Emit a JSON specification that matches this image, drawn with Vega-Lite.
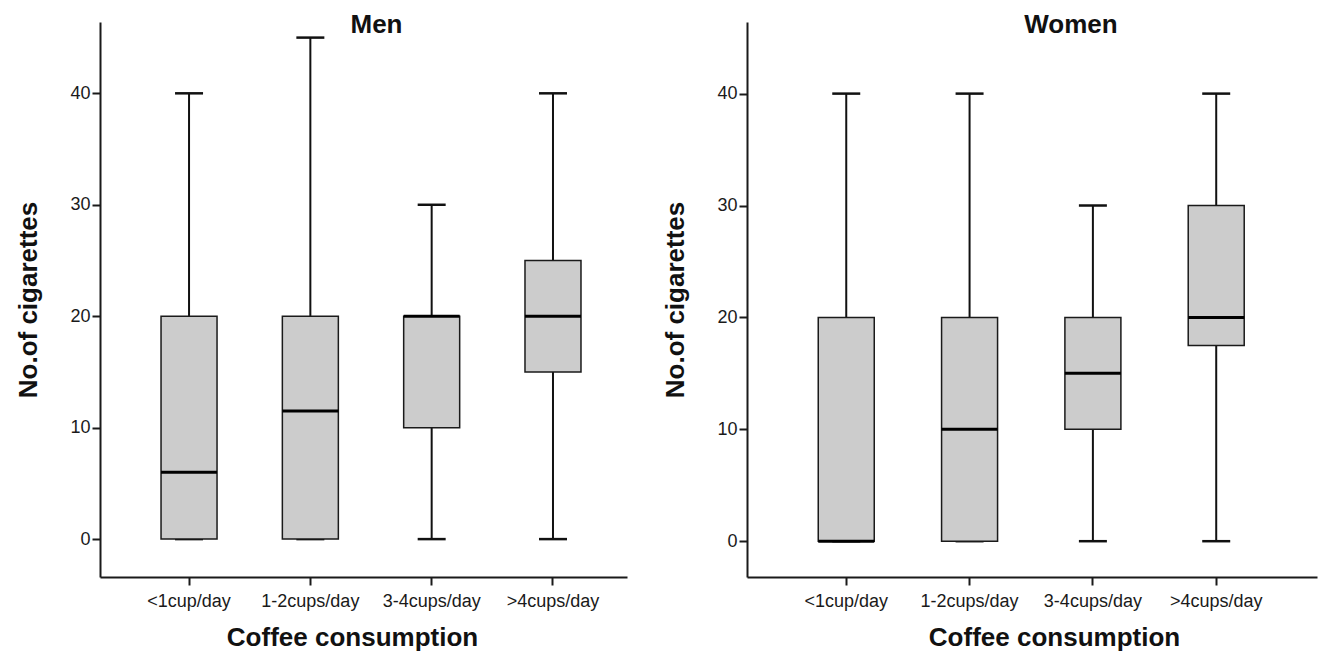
{
  "$schema": "https://vega.github.io/schema/vega-lite/v6.json",
  "background": "white",
  "padding": {"left": 15, "top": 12, "right": 5, "bottom": 5},
  "bounds": "flush",
  "spacing": 120,
  "datasets": {
    "stats": [
      {"sex": "Men", "coffee": "<1cup/day", "min": 0, "q1": 0, "median": 6, "q3": 20, "max": 40},
      {"sex": "Men", "coffee": "1-2cups/day", "min": 0, "q1": 0, "median": 11.5, "q3": 20, "max": 45},
      {"sex": "Men", "coffee": "3-4cups/day", "min": 0, "q1": 10, "median": 20, "q3": 20, "max": 30},
      {"sex": "Men", "coffee": ">4cups/day", "min": 0, "q1": 15, "median": 20, "q3": 25, "max": 40},
      {"sex": "Women", "coffee": "<1cup/day", "min": 0, "q1": 0, "median": 0, "q3": 20, "max": 40},
      {"sex": "Women", "coffee": "1-2cups/day", "min": 0, "q1": 0, "median": 10, "q3": 20, "max": 40},
      {"sex": "Women", "coffee": "3-4cups/day", "min": 0, "q1": 10, "median": 15, "q3": 20, "max": 30},
      {"sex": "Women", "coffee": ">4cups/day", "min": 0, "q1": 17.5, "median": 20, "q3": 30, "max": 40}
    ]
  },
  "config": {
    "view": {"stroke": null},
    "font": "Liberation Sans",
    "axis": {
      "grid": false,
      "domainColor": "#1a1a1a",
      "domainWidth": 2,
      "tickColor": "#1a1a1a",
      "tickWidth": 2,
      "tickSize": 8,
      "labelFont": "Liberation Sans",
      "labelFontSize": 18,
      "labelColor": "#1a1a1a",
      "titleFont": "Liberation Sans",
      "titleFontWeight": "bold",
      "titleFontSize": 26,
      "titleColor": "#111"
    },
    "title": {"font": "Liberation Sans", "fontSize": 26, "fontWeight": "bold", "color": "#111", "anchor": "middle", "frame": "group"}
  },
  "hconcat": [
    {
      "width": 527,
      "height": 555,
      "title": {"text": "Men", "offset": -16, "dx": 13},
      "data": {"name": "stats"},
      "transform": [{"filter": "datum.sex === 'Men'"}],
      "encoding": {
        "x": {
          "field": "coffee", "type": "nominal",
          "sort": ["<1cup/day", "1-2cups/day", "3-4cups/day", ">4cups/day"],
          "scale": {"paddingInner": 0, "paddingOuter": 0.172, "align": 0.68},
          "axis": {"title": "Coffee consumption", "labelAngle": 0, "labelPadding": 7, "titlePadding": 14, "titleX": 252}
        }
      },
      "layer": [
        {
          "mark": {"type": "rule", "color": "#111", "strokeWidth": 2},
          "encoding": {
            "y": {"field": "min", "type": "quantitative", "scale": {"domain": [-3.4, 46.4], "nice": false, "zero": false},
              "axis": {"title": "No.of cigarettes", "values": [0, 10, 20, 30, 40], "labelPadding": 2, "titlePadding": 28}},
            "y2": {"field": "max"}
          }
        },
        {
          "mark": {"type": "tick", "color": "#111", "opacity": 1, "size": 28, "thickness": 2.5},
          "encoding": {"y": {"field": "max", "type": "quantitative"}}
        },
        {
          "mark": {"type": "tick", "color": "#111", "opacity": 1, "size": 28, "thickness": 2.5},
          "encoding": {"y": {"field": "min", "type": "quantitative"}}
        },
        {
          "mark": {"type": "bar", "size": 56, "fill": "#cccccc", "opacity": 1, "stroke": "#1a1a1a", "strokeWidth": 1.5},
          "encoding": {"y": {"field": "q1", "type": "quantitative"}, "y2": {"field": "q3"}}
        },
        {
          "mark": {"type": "tick", "color": "#000", "opacity": 1, "size": 56, "thickness": 3},
          "encoding": {"y": {"field": "median", "type": "quantitative"}}
        }
      ]
    },
    {
      "width": 570,
      "height": 555,
      "title": {"text": "Women", "offset": -16, "dx": 39},
      "data": {"name": "stats"},
      "transform": [{"filter": "datum.sex === 'Women'"}],
      "encoding": {
        "x": {
          "field": "coffee", "type": "nominal",
          "sort": ["<1cup/day", "1-2cups/day", "3-4cups/day", ">4cups/day"],
          "scale": {"paddingInner": 0, "paddingOuter": 0.311, "align": 0.49},
          "axis": {"title": "Coffee consumption", "labelAngle": 0, "labelPadding": 7, "titlePadding": 14, "titleX": 307}
        }
      },
      "layer": [
        {
          "mark": {"type": "rule", "color": "#111", "strokeWidth": 2},
          "encoding": {
            "y": {"field": "min", "type": "quantitative", "scale": {"domain": [-3.2, 46.4], "nice": false, "zero": false},
              "axis": {"title": "No.of cigarettes", "values": [0, 10, 20, 30, 40], "labelPadding": 2, "titlePadding": 28}},
            "y2": {"field": "max"}
          }
        },
        {
          "mark": {"type": "tick", "color": "#111", "opacity": 1, "size": 28, "thickness": 2.5},
          "encoding": {"y": {"field": "max", "type": "quantitative"}}
        },
        {
          "mark": {"type": "tick", "color": "#111", "opacity": 1, "size": 28, "thickness": 2.5},
          "encoding": {"y": {"field": "min", "type": "quantitative"}}
        },
        {
          "mark": {"type": "bar", "size": 56, "fill": "#cccccc", "opacity": 1, "stroke": "#1a1a1a", "strokeWidth": 1.5},
          "encoding": {"y": {"field": "q1", "type": "quantitative"}, "y2": {"field": "q3"}}
        },
        {
          "mark": {"type": "tick", "color": "#000", "opacity": 1, "size": 56, "thickness": 3},
          "encoding": {"y": {"field": "median", "type": "quantitative"}}
        }
      ]
    }
  ]
}
